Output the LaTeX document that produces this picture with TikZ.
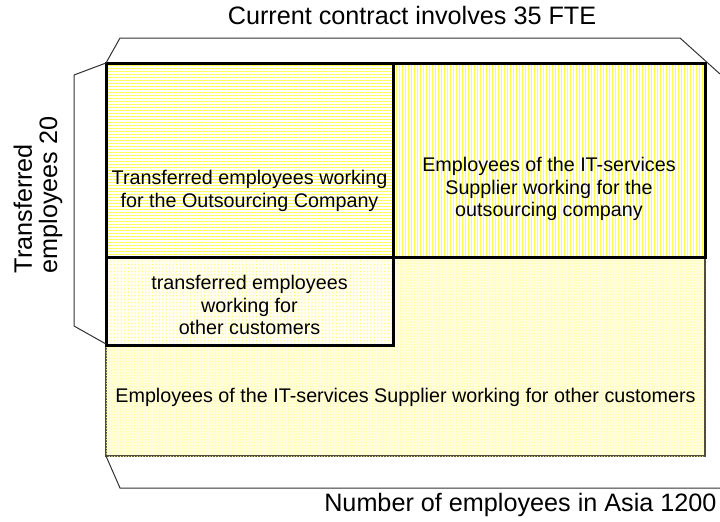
\documentclass[tikz,border=0pt]{standalone}
\usepackage{fontspec}
\setmainfont{Liberation Sans}
\usetikzlibrary{patterns.meta}

\newcommand{\bigtxt}{\fontsize{18.9}{19}\selectfont}
\newcommand{\boxtxt}{\fontsize{14.8}{16.8}\selectfont}

\tikzset{every picture/.style={line width=0.75pt}}
\tikzset{
  hlinefill/.style={preaction={fill=white},pattern={Lines[angle=0,distance=2.25pt,line width=0.7pt]},pattern color=yellow!70},
  vlinefill/.style={preaction={fill=white},pattern={Lines[angle=90,distance=2.25pt,line width=0.7pt]},pattern color=yellow!70},
  dotfill/.style={fill=yellow!6,postaction={pattern={Dots[radius=0.55pt,distance=2.6pt]},pattern color=yellow!55}},
  densefill/.style={fill=yellow!14,postaction={pattern={Dots[radius=0.5pt,distance=2.1pt]},pattern color=yellow!40}},
  heavybox/.style={draw=black,line width=2.25pt},
  bracket/.style={draw=black!80,line width=0.75pt}
}

\begin{document}
\begin{tikzpicture}[x=0.75pt,y=0.75pt,yscale=-1,xscale=1]
\useasboundingbox (0,0) rectangle (720,521);
%Shape: Rectangle [all employees in Asia]
\draw [densefill,draw=black!60!yellow!50!black,line width=1.1pt] (106,63) rectangle (705,456) ;
%Shape: Rectangle [transferred, other customers]
\draw [dotfill] (106,257) rectangle (393,345) ;
\draw [heavybox] (106,257) rectangle (393,345) ;
%Shape: Rectangle [transferred, outsourcing company]
\draw [hlinefill] (106,63) rectangle (393,257) ;
\draw [heavybox] (106,63) rectangle (393,257) ;
%Shape: Rectangle [supplier, outsourcing company]
\draw [vlinefill] (393,63) rectangle (705,257) ;
\draw [heavybox] (393,63) rectangle (705,257) ;
%Straight Lines [top bracket]
\draw [bracket] (106,63) -- (120,38) -- (680,38) -- (720,74) ;
%Straight Lines [left bracket]
\draw [bracket] (106,63) -- (74,75) -- (74,326) -- (106,344) ;
%Straight Lines [bottom bracket]
\draw [bracket] (106,456) -- (120,488) -- (720,488) ;
% Text Node
\draw (412,15) node [anchor=center][inner sep=0.75pt] [font=\bigtxt] (contract) {Current contract involves 35 FTE};
% Text Node
\draw (718,505) node [anchor=east][inner sep=0.75pt] [font=\bigtxt] (asia) {Number of employees in Asia 1200};
% Text Node
\draw (38,195) node [rotate=90][inner sep=0.75pt] [font=\bigtxt,align=left] (transferred) {Transferred\\employees 20};
% Text Node
\draw (249.5,191) node [inner sep=0.75pt] [font=\boxtxt,align=center] (tlbox) {Transferred employees working\\for the Outsourcing Company};
% Text Node
\draw (549,189) node [inner sep=0.75pt] [font=\boxtxt,align=center] (trbox) {Employees of the IT-services\\Supplier working for the\\outsourcing company};
% Text Node
\draw (249.5,305) node [inner sep=0.75pt] [font=\boxtxt,align=center] (blbox) {transferred employees\\working for\\other customers};
% Text Node
\draw (405.5,397) node [inner sep=0.75pt] [font=\boxtxt] (otherbox) {Employees of the IT-services Supplier working for other customers};
\end{tikzpicture}
\end{document}
